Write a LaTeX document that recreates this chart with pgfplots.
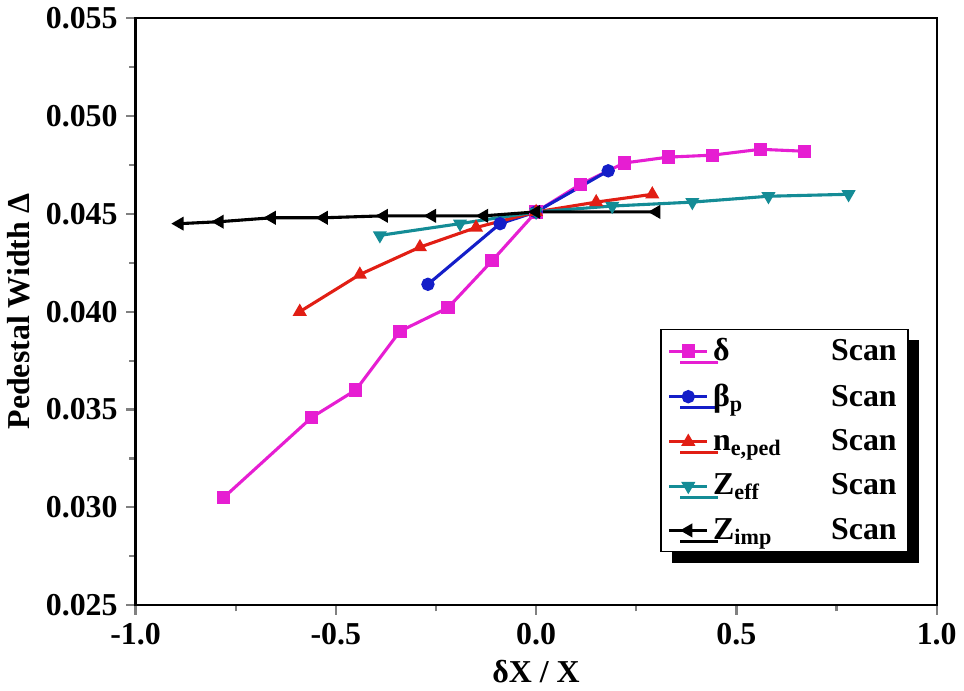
\documentclass[border=0pt]{standalone}
\usepackage{pgfplots}
\pgfplotsset{compat=1.18}
\usetikzlibrary{shadows}
\usepackage{fontspec}
\setmainfont{Liberation Serif}
\newcommand{\legent}[1]{\makebox[3.7em][l]{#1}Scan}
\begin{document}
\begin{tikzpicture}
\begin{axis}[width=14.3cm,height=10.9cm,
  xmin=-1,xmax=1,ymin=0.025,ymax=0.055,
  xtick={-1,-0.5,0,0.5,1},ytick={0.025,0.03,0.035,0.04,0.045,0.05,0.055},
  xticklabel style={/pgf/number format/.cd,fixed,fixed zerofill,precision=1},
  yticklabel style={/pgf/number format/.cd,fixed,fixed zerofill,precision=3},
  scaled y ticks=false,
  /pgf/number format/assume math mode=true,
  ticklabel style={font=\bfseries\Large},
  label style={font=\bfseries\Large},
  xlabel={δX / X},ylabel={Pedestal Width Δ},
  line width=1pt, tick style={line width=1pt}, tick align=outside,
  xtick pos=bottom, ytick pos=left,
  minor x tick num=1, minor y tick num=1,
  legend style={at={(0.965,0.09)},anchor=south east,font=\bfseries\Large,
    draw=black,line width=0.8pt,
    drop shadow={shadow xshift=5pt,shadow yshift=-5pt,fill=black,opacity=1},
    fill=white,cells={anchor=west},row sep=5pt},
  legend cell align=left,
  every axis plot/.append style={line width=1.4pt,mark size=2.3pt}]
\addplot[color={rgb,255:red,230;green,30;blue,210},mark=square*] coordinates {(-0.78,0.0305)(-0.56,0.0346)(-0.45,0.036)(-0.34,0.039)(-0.22,0.0402)(-0.11,0.0426)(0,0.0451)(0.11,0.0465)(0.22,0.0476)(0.33,0.0479)(0.44,0.0480)(0.56,0.0483)(0.67,0.0482)};
\addlegendentry{\legent{δ}}
\addplot[color={rgb,255:red,20;green,30;blue,200},mark=*] coordinates {(-0.27,0.0414)(-0.09,0.0445)(0,0.0451)(0.18,0.0472)};
\addlegendentry{\legent{β\textsubscript{p}}}
\addplot[color={rgb,255:red,225;green,30;blue,20},mark=triangle*] coordinates {(-0.59,0.040)(-0.44,0.0419)(-0.29,0.0433)(-0.15,0.0443)(0,0.0451)(0.15,0.0456)(0.29,0.0460)};
\addlegendentry{\legent{n\textsubscript{e,ped}}}
\addplot[color={rgb,255:red,20;green,140;blue,150},mark=triangle*,mark options={rotate=180}] coordinates {(-0.39,0.0439)(-0.19,0.0445)(0,0.0451)(0.19,0.0454)(0.39,0.0456)(0.58,0.0459)(0.78,0.0460)};
\addlegendentry{\legent{Z\textsubscript{eff}}}
\addplot[color=black,mark=triangle*,mark options={rotate=90}] coordinates {(-0.89,0.0445)(-0.79,0.0446)(-0.66,0.0448)(-0.53,0.0448)(-0.38,0.0449)(-0.26,0.0449)(-0.13,0.0449)(0,0.0451)(0.3,0.0451)};
\addlegendentry{\legent{Z\textsubscript{imp}}}
\end{axis}
\end{tikzpicture}
\end{document}
